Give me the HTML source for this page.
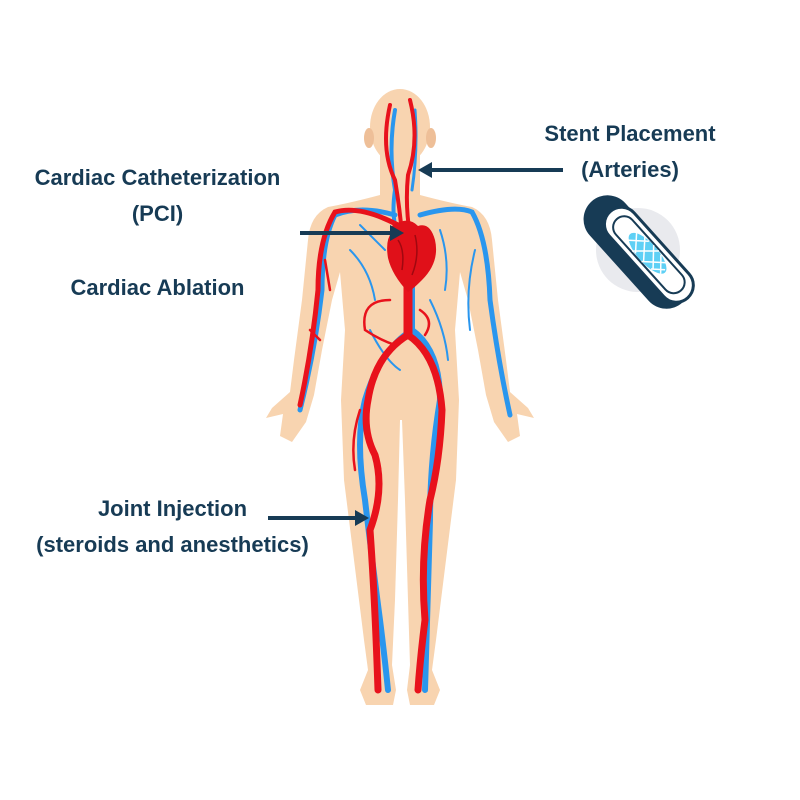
<!DOCTYPE html>
<html><head><style>
html,body{margin:0;padding:0;background:#fff;}
.t{position:absolute;font-family:"Liberation Sans",sans-serif;font-weight:bold;color:#173b55;font-size:22px;text-align:center;line-height:36px;white-space:nowrap;}
</style></head><body>
<div style="position:relative;width:800px;height:800px;overflow:hidden;">
<svg width="800" height="800" style="position:absolute;left:0;top:0">
<g fill="#f8d4b0">
<ellipse cx="400" cy="127" rx="30" ry="38"/>
<ellipse cx="369" cy="138" rx="5" ry="10" fill="#eebf98"/>
<ellipse cx="431" cy="138" rx="5" ry="10" fill="#eebf98"/>
<path d="M380,150 L380,195 Q350,203 328,207 Q310,215 308,240 L302,300 L294,360 L290,392 L272,408 L266,418 L283,414 L280,436 L292,442 L306,422 L314,395 L322,350 L332,300 L340,272 L345,330 L341,400 L344,480 L354,560 L364,640 L368,670 L360,690 L366,705 L393,705 L396,690 L392,665 L395,600 L398,500 L400,420 L402,420 L405,500 L408,600 L410,665 L407,690 L410,705 L434,705 L440,690 L432,670 L436,640 L446,560 L456,480 L459,400 L455,330 L460,272 L468,300 L478,350 L486,395 L494,422 L508,442 L520,436 L517,414 L534,418 L528,408 L510,392 L506,360 L498,300 L492,240 Q490,215 472,207 Q450,203 420,195 L420,150 Z"/>
</g>
<g fill="none" stroke="#2a96ee" stroke-linecap="round">
<path d="M395,110 Q388,150 395,190 Q392,210 395,225" stroke-width="4"/>
<path d="M415,110 Q418,150 412,190" stroke-width="3"/>
<path d="M395,215 Q360,205 335,215 Q322,240 322,290 Q315,350 300,410" stroke-width="5"/>
<path d="M420,215 Q455,205 472,212 Q488,240 490,300 Q498,360 510,415" stroke-width="5"/>
<path d="M412,280 L412,330 Q380,350 365,400 Q355,440 365,500 Q372,560 380,620 Q385,660 388,690" stroke-width="6"/>
<path d="M412,330 Q440,350 440,400 Q430,460 430,520 Q428,600 425,690" stroke-width="6"/>
<path d="M350,250 Q370,270 375,300 M360,225 L385,250 M440,230 Q450,260 445,290 M475,250 Q465,290 470,330 M370,330 Q385,360 400,370 M430,300 Q445,330 448,360" stroke-width="2"/>
</g>
<g fill="none" stroke="#e8121c" stroke-linecap="round">
<path d="M390,105 Q380,150 395,180 Q400,210 402,235" stroke-width="4"/>
<path d="M410,100 Q420,140 408,175 Q405,205 410,235" stroke-width="4"/>
<path d="M398,225 Q360,205 335,212 Q318,240 318,290 Q312,350 300,405" stroke-width="5"/>
<path d="M408,280 L408,335" stroke-width="9"/>
<path d="M408,335 Q375,355 368,400 Q362,430 375,455 Q385,490 370,530 Q375,600 378,690" stroke-width="7"/>
<path d="M408,335 Q438,355 442,410 Q440,460 430,500 Q420,560 425,620 Q420,660 418,690" stroke-width="7"/>
<path d="M390,300 Q360,300 365,330 Q380,340 395,345 M420,310 Q435,320 425,335 M360,410 Q350,440 355,470 M325,260 L330,290 M310,330 L320,340" stroke-width="2.5"/>
</g>
<path d="M392,232 Q388,225 400,222 Q410,218 418,226 Q430,222 435,240 Q440,262 422,280 Q412,290 408,292 Q392,275 388,258 Q385,240 392,232 Z" fill="#e01019"/>
<path d="M398,240 Q405,250 402,270 M415,235 Q420,255 412,275" stroke="#a00810" stroke-width="1.5" fill="none"/>
<g stroke="#173b55" stroke-width="4" fill="#173b55">
<line x1="300" y1="233" x2="392" y2="233"/>
<polygon points="404,233 390,225 390,241" stroke="none"/>
<line x1="563" y1="170" x2="430" y2="170"/>
<polygon points="418,170 432,162 432,178" stroke="none"/>
<line x1="268" y1="518" x2="356" y2="518"/>
<polygon points="369,518 355,510 355,526" stroke="none"/>
</g>
<circle cx="638" cy="250" r="42" fill="#e9eaee"/>
<g transform="translate(637,252) rotate(48)">
<rect x="-68" y="-24" width="136" height="48" rx="24" fill="#173b55"/>
<rect x="-48" y="-24" width="116" height="34" rx="17" fill="#fff" stroke="#173b55" stroke-width="3"/>
<rect x="-38" y="-18" width="96" height="22" rx="11" fill="#fff" stroke="#173b55" stroke-width="2"/>
<ellipse cx="8" cy="-7" rx="26" ry="10" fill="#5ed0f5"/>
<path d="M-16,-14 L0,2 M-6,-16 L12,2 M6,-17 L24,0 M18,-16 L32,-3 M-16,0 L0,-16 M-4,3 L14,-17 M10,3 L28,-15 M22,1 L32,-9" stroke="#fff" stroke-width="1.5"/>
</g>
</svg>
<div class="t" style="left:20px;top:160px;width:275px">Cardiac Catheterization<br>(PCI)</div>
<div class="t" style="left:20px;top:270px;width:275px">Cardiac Ablation</div>
<div class="t" style="left:520px;top:116px;width:220px">Stent Placement<br>(Arteries)</div>
<div class="t" style="left:20px;top:491px;width:305px">Joint Injection<br>(steroids and anesthetics)</div>
</div>
</body></html>
